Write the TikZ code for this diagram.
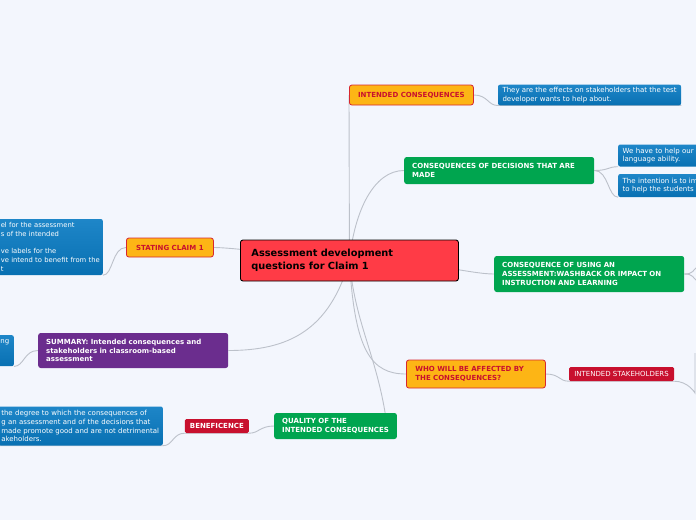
\documentclass[tikz,border=0pt]{standalone}
\usepackage{fontspec}
\setmainfont{DejaVu Sans}
\usetikzlibrary{positioning, backgrounds}

\definecolor{bgblue}{HTML}{F3F6FD}
\definecolor{mainred}{HTML}{FF3B46}
\definecolor{orangefill}{HTML}{FDB515}
\definecolor{orangeline}{HTML}{D7282F}
\definecolor{redtext}{HTML}{C8102E}
\definecolor{greenfill}{HTML}{00A54F}
\definecolor{purplefill}{HTML}{6B2D8E}
\definecolor{crimson}{HTML}{C8102E}
\definecolor{leaftop}{HTML}{1E86C8}
\definecolor{leafbot}{HTML}{0870B2}
\definecolor{linkgray}{HTML}{BCC1CA}

\newcommand\mapfont{\fontsize{7}{8.8}\selectfont}

\begin{document}
\begin{tikzpicture}[x=1pt, y=-1pt,
    font=\mapfont,
    box/.style={rounded corners=2.5pt, align=left, inner xsep=8pt, inner ysep=2.5pt, anchor=west},
    topic/.style={box, fill=mainred, draw=black, line width=0.9pt, inner xsep=11pt,
                  text width=196pt, minimum height=41pt, font=\fontsize{9.8}{13}\selectfont\bfseries},
    orangebox/.style={box, fill=orangefill, draw=orangeline, line width=0.8pt, text=redtext,
                      font=\mapfont\bfseries},
    greenbox/.style={box, fill=greenfill, text=white, font=\mapfont\bfseries},
    purplebox/.style={box, fill=purplefill, text=white, font=\mapfont\bfseries},
    tag/.style={box, fill=crimson, text=white, inner xsep=5pt, inner ysep=2pt, rounded corners=1.5pt},
    leaf/.style={box, top color=leaftop, bottom color=leafbot, text=white, inner xsep=4.5pt,
                 rounded corners=2pt},
    link/.style={draw=linkgray, line width=0.9pt}
]
\useasboundingbox (0,0) rectangle (696,520);
\begin{scope}[on background layer]
\fill[bgblue] (0,0) rectangle (696,520);
\end{scope}

% central topic
\node[topic] (central) at (240,260.5) {Assessment development\\questions for Claim 1};

% upper right branches
\node[orangebox, minimum width=124pt, minimum height=20pt] (ic) at (349,95) {INTENDED CONSEQUENCES};
\node[leaf, right=24pt of ic] (leafIC) {They are the effects on stakeholders that the test\\developer wants to help about.};
\node[greenbox, text width=174pt, minimum height=27pt] (cod) at (404,170.5) {CONSEQUENCES OF DECISIONS THAT ARE\\MADE};
\node[leaf, text width=130pt, minimum height=22pt] (codA) at (618,155.5) {We have to help our\\language ability.};
\node[leaf, text width=130pt, minimum height=23pt] (codB) at (618,185.5) {The intention is to im\\to help the students};
\node[greenbox, text width=174pt, minimum height=36pt] (cou) at (494,274) {CONSEQUENCE OF USING AN\\ASSESSMENT:WASHBACK OR IMPACT ON\\INSTRUCTION AND LEARNING};

% lower right branches
\node[orangebox, inner xsep=9pt, text width=121pt, minimum height=28pt] (who) at (406,374) {WHO WILL BE AFFECTED BY\\THE CONSEQUENCES?};
\node[tag, right=23pt of who, minimum width=105pt, minimum height=14pt] (stake) {INTENDED STAKEHOLDERS};
\node[greenbox, minimum width=122pt, minimum height=26pt] (qual) at (274,426) {QUALITY OF THE\\INTENDED CONSEQUENCES};
\node[tag, left=25pt of qual, minimum width=63pt, minimum height=14pt, font=\mapfont\bfseries] (bene) {BENEFICENCE};
\node[leaf, anchor=east, inner xsep=3pt, text width=158.5pt, minimum height=39pt] (beneLeaf) at (163,426)
     {the degree to which the consequences of\\g an assessment and of the decisions that\\made promote good and are not detrimental\\akeholders.};

% left branches
\node[orangebox, minimum width=87pt, minimum height=19pt] (sc) at (126,247.5) {STATING CLAIM 1};
\node[leaf, anchor=east, inner xsep=3pt, text width=99pt, minimum height=56pt,
      font=\fontsize{6.8}{8.8}\selectfont] (scLeaf) at (103,247)
     {el for the assessment\\s of the intended\\[8.8pt]ve labels for the\\ve intend to benefit from the\\t};
\node[purplebox, text width=174pt, minimum height=35pt] (summary) at (38,350.5) {SUMMARY: Intended consequences and\\stakeholders in classroom-based\\assessment};
\node[leaf, anchor=north east, align=right, text width=30pt, text height=5.5pt, text depth=20.5pt] (sumLeaf) at (14,335) {ing};

% loose ends at the right border
\coordinate (couUp) at (697,267);
\coordinate (couDown) at (697,281);
\coordinate (stakeEnd) at (695,393);
\coordinate (stakeTop) at (695,353);

\begin{scope}[on background layer]
\draw[link] (central.center) -- (ic.west);
\draw[link] (central.center) .. controls +(5,-50) and +(-30,0) .. (cod.west);
\draw[link] (central.center) .. controls +(80,0) and +(-25,0) .. (cou.west);
\draw[link] (central.center) .. controls +(-60,-5) and +(20,0) .. (sc.east);
\draw[link] (central.center) .. controls +(-20,70) and +(60,0) .. (summary.east);
\draw[link] (central.center) .. controls +(5,90) and +(-35,0) .. (who.west);
\draw[link] (central.center) .. controls +(5,60) and +(-10,-60) .. ([xshift=-12pt]qual.north east);
\draw[link] (ic.east) .. controls +(14,0) and +(-10,0) .. (leafIC.south west) -- (leafIC.south east);
\draw[link] (cod.east) .. controls +(14,0) and +(-10,0) .. (codA.south west);
\draw[link] (cod.east) .. controls +(14,0) and +(-10,0) .. (codB.south west);
\draw[link] (cou.east) .. controls +(9,0) and +(-4,3) .. (couUp);
\draw[link] (cou.east) .. controls +(9,0) and +(-4,-3) .. (couDown);
\draw[link] (who.east) .. controls +(14,0) and +(-10,0) .. (stake.south west) -- (stake.south east)
            .. controls +(14,0) and +(0,0) .. (stakeEnd) -- (stakeTop);
\draw[link] (qual.west) .. controls +(-14,0) and +(10,0) .. (bene.south east) -- (bene.south west)
            .. controls +(-12,0) and +(10,0) .. (beneLeaf.south east) -- (beneLeaf.south west);
\draw[link] (sc.west) .. controls +(-14,0) and +(10,0) .. (scLeaf.south east);
\draw[link] (summary.west) .. controls +(-14,0) and +(10,0) .. (sumLeaf.south east);
\end{scope}
\end{tikzpicture}
\end{document}
